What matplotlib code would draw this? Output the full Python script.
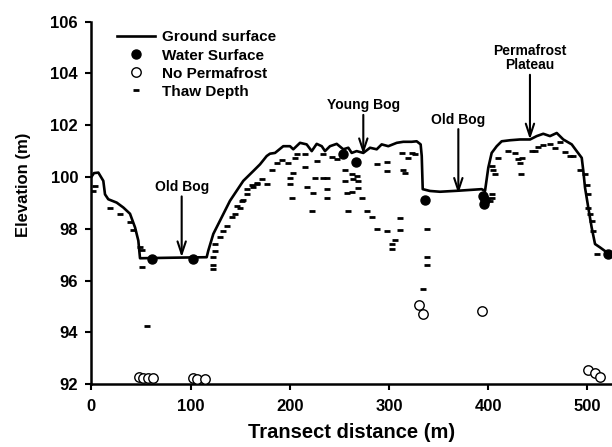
import matplotlib
matplotlib.use("Agg")
import matplotlib.pyplot as plt

plt.rcParams['font.family'] = ['Liberation Sans', 'DejaVu Sans']
plt.rcParams['font.weight'] = 'bold'

# Ground surface profile (distance m, elevation m)
ground_x = [0, 2.7, 7.1, 12.1, 13.8, 17.1, 25.6, 32.3, 39.0, 44.1, 47.4, 49.1,
            80, 116.3, 117.9, 123, 129.7, 139.8, 153.2, 163.3, 170.1, 176.8,
            180.1, 185.2, 193.5, 200.3, 203.6, 210.4, 217.1, 222.2, 227.2,
            232.3, 235.6, 240.6, 247.4, 254, 259.1, 262.5, 267.5, 274.2, 281,
            287.7, 292.7, 299.4, 307.9, 314.5, 323, 328, 332, 333.1, 334.1,
            341.4, 351.5, 370, 393.5, 396.9, 400.2, 403.6, 408.7, 413.7,
            422.1, 432.2, 442.3, 449, 455.6, 462.4, 469.2, 475.8, 484.3,
            489.3, 494.4, 496, 497.7, 501, 504.4, 507.8, 512.8, 519.6, 524.9]
ground_y = [100.0, 100.15, 100.17, 99.85, 99.33, 99.14, 99.01, 98.82, 98.58,
            98.05, 97.54, 96.86, 96.88, 96.9, 97.15, 97.8, 98.31, 99.08,
            99.85, 100.23, 100.49, 100.81, 100.9, 100.93, 101.19, 101.19,
            101.07, 101.32, 101.26, 101.0, 101.28, 101.19, 101.0, 101.19,
            101.28, 101.07, 101.13, 100.93, 101.0, 100.93, 101.13, 101.07,
            101.26, 101.19, 101.32, 101.36, 101.36, 101.38, 101.26, 100.81,
            99.53, 99.46, 99.43, 99.47, 99.53, 99.46, 100.36, 100.93, 101.19,
            101.38, 101.42, 101.45, 101.45, 101.58, 101.67, 101.58, 101.7,
            101.45, 101.26, 101.0, 100.74, 100.23, 99.59, 98.82, 98.05,
            97.41, 97.28, 97.09, 96.96]

# Water surface
water_x = [60.9, 102.8, 254, 266.8, 336.4, 394.9, 395.9, 397, 521.2]
water_y = [96.83, 96.83, 100.87, 100.59, 99.1, 99.27, 98.96, 99.1, 97.03]

# No permafrost (open circles)
nopf_x = [48.4, 52.4, 57.5, 61.9, 102.8, 106.3, 114.6, 330.6, 334.7, 393.5,
          501, 507.8, 512.8]
nopf_y = [92.28, 92.22, 92.22, 92.22, 92.24, 92.2, 92.18, 95.04, 94.72, 94.82,
          92.54, 92.41, 92.26]

# Thaw depth
thaw_x = [3.8, 2.0, 18.9, 28.9, 39.0, 42.3, 49.1, 50.8, 50.8, 124.7, 124.7,
          123, 123, 123, 129.7, 133.1, 136.5, 144.9, 149.9, 151.6, 156.7,
          163.3, 166.7, 55.8,
          141.5, 146.6, 152.6, 156.7, 161.7, 166.7, 171.8, 176.8, 181.9,
          186.9, 191.9, 198.6, 200.3, 200.3, 203.6, 202, 205.3, 207.1, 215.4,
          215.4, 217.1, 223.8, 222.2, 227.2, 225.5, 233.9, 233.9, 237.3,
          237.3, 237.3, 242.3, 247.4, 255.7, 255.7, 257.5, 259.1, 262.5,
          262.5, 264.1, 267.5, 269.2, 269.2, 272.6, 277.6, 282.7, 287.7,
          297.8, 306.2, 302.8, 302.8, 311.2, 311.2, 287.7, 297.8, 297.8,
          312.9, 314.5, 316.2, 323, 319.6, 326.3, 338.1, 338.1, 338.1, 334.7,
          403.6, 405.2, 406.9, 403.6, 403.6, 401.9, 410.3, 420.4, 427.1,
          430.4, 432.2, 433.9, 432.9, 444, 447.3, 450.6, 455.6, 462.4, 467.4,
          472.5, 477.5, 482.5, 485.9, 492.6, 497.7, 499.4, 501, 501, 502.7,
          504.4, 506, 509.5]
thaw_y = [99.65, 99.46, 98.82, 98.57, 98.27, 97.95, 97.31, 97.18, 96.54,
          97.41, 97.15, 96.9, 96.58, 96.45, 97.67, 97.92, 98.12, 98.57,
          98.82, 99.08, 99.33, 99.62, 99.72, 94.23,
          98.46, 98.88, 99.1, 99.53, 99.69, 99.78, 99.91, 99.72, 100.26,
          100.55, 100.64, 100.55, 99.95, 99.74, 100.17, 99.18, 100.72,
          100.87, 100.87, 100.38, 99.62, 99.4, 98.69, 100.62, 99.97, 100.87,
          99.95, 99.95, 99.53, 99.2, 100.77, 100.68, 100.26, 99.85, 99.4,
          98.69, 99.43, 100.1, 99.91, 100.04, 99.85, 99.59, 99.18, 98.69,
          98.46, 97.99, 97.9, 97.57, 97.41, 97.22, 98.4, 97.95, 100.51,
          100.59, 100.23, 100.93, 100.26, 100.17, 100.93, 100.74, 100.87,
          97.99, 96.9, 96.58, 95.68,
          100.42, 100.26, 100.1, 99.33, 99.18, 99.08, 100.72, 101.0, 100.93,
          100.68, 100.55, 100.72, 100.13, 101.0, 101.0, 101.15, 101.23,
          101.26, 101.13, 101.36, 100.97, 100.81, 100.81, 100.26, 100.13,
          99.69, 99.33, 98.82, 98.57, 98.31, 97.92, 97.03]

# Arrow annotations: label, x, text bottom, arrow tip
site_labels = ["Old Bog", "Young Bog", "Old Bog", "Permafrost\nPlateau"]
site_x = [91.1, 274.2, 370.0, 442.2]
site_top = [99.25, 102.4, 101.85, 103.95]
site_tip = [96.9, 100.88, 99.35, 101.45]

fig = plt.figure(figsize=(6.12, 4.47), dpi=100)
ax = fig.add_axes([0.1492, 0.1409, 0.8503, 0.8105])

ax.plot(ground_x, ground_y, color='black', lw=1.9, label='Ground surface',
        zorder=3)
ax.plot(water_x, water_y, 'o', color='black', ms=6.5, label='Water Surface',
        zorder=4)
ax.plot(nopf_x, nopf_y, 'o', mfc='white', mec='black', mew=1.0, ms=6.8,
        label='No Permafrost', zorder=4)
ax.plot(thaw_x, thaw_y, '_', color='black', ms=5, mew=2.0,
        label='Thaw Depth', zorder=2)

for lab, x, top, tip in zip(site_labels, site_x, site_top, site_tip):
    ax.annotate('', xy=(x, tip), xytext=(x, top),
                arrowprops=dict(arrowstyle='->,head_length=0.9,head_width=0.3',
                                color='black', lw=1.5, shrinkA=0, shrinkB=0))
    ax.text(x, top + 0.1, lab, ha='center', va='bottom', fontsize=10,
            fontweight='bold', linespacing=1.05)

ax.set_xlim(0, 524.6)
ax.set_ylim(92, 106)
ax.set_xticks([0, 100, 200, 300, 400, 500])
ax.set_yticks([92, 94, 96, 98, 100, 102, 104, 106])

for s in ['top', 'right']:
    ax.spines[s].set_visible(False)
for s in ['left', 'bottom']:
    ax.spines[s].set_linewidth(1.8)
ax.tick_params(direction='out', length=4.5, width=1.5, labelsize=12)
ax.tick_params(axis='y', pad=5)
ax.tick_params(axis='x', pad=6)

ax.set_xlabel('Transect distance (m)', fontsize=14.5, fontweight='bold',
              labelpad=7)
ax.set_ylabel('Elevation (m)', fontsize=12, fontweight='bold')
ax.yaxis.set_label_coords(-0.116, 0.55)

ax.legend(loc='upper left', bbox_to_anchor=(0.049, 0.976), frameon=False,
          fontsize=11, handlelength=2.5, handletextpad=0.45, labelspacing=0.27,
          borderpad=0, borderaxespad=0, numpoints=1)

fig.savefig('out.png', dpi=100)
